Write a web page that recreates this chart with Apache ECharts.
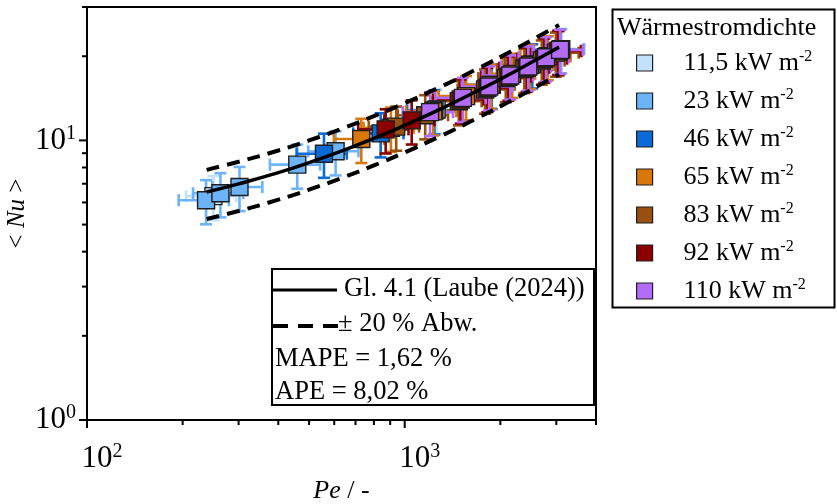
<!DOCTYPE html>
<html>
<head>
<meta charset="utf-8">
<script src="https://cdn.jsdelivr.net/npm/echarts@6/dist/echarts.min.js"></script>
<style>
  html, body { margin: 0; padding: 0; background: #fff; }
  #chart { width: 837px; height: 504px; }
</style>
</head>
<body>
<div id="chart"></div>
<script>
// Heat flux densities (legend labels) and their colours
const fluxLabels = ['11,5', '23', '46', '65', '83', '92', '110'];
const fluxColors = ['#c3e1fd', '#6cb4f7', '#0b6bd6', '#d7770c', '#975010', '#8b0000', '#b36cf5'];

// Measured Péclet numbers and mean Nusselt numbers per heat flux
const pe11 = [250, 1260, 3090];
const nu11 = [6.32, 12.9, 21.1];
const pe23 = [237, 263, 302, 459, 606, 3110];
const nu23 = [6.11, 6.47, 6.81, 8.19, 9.14, 21.2];
const pe46 = [557, 840, 1240, 1880, 2520, 3060];
const nu46 = [8.96, 10.6, 12.8, 15.8, 18.7, 20.9];
const pe65 = [730, 905, 1230, 1560, 1870, 2180, 2480, 2820, 3050];
const nu65 = [10.12, 11.1, 12.7, 14.4, 15.8, 17.3, 18.6, 20.0, 20.8];
const pe83 = [940, 1160, 1480, 1790, 2080, 2380, 2700, 2990];
const nu83 = [11.2, 12.3, 13.8, 15.2, 16.7, 18.0, 19.3, 20.6];
const pe92 = [871, 1052, 1500, 1820, 2120, 2420, 2750, 3040];
const nu92 = [10.95, 11.79, 14.0, 15.4, 16.9, 18.2, 19.6, 20.9];
const pe110 = [1202, 1524, 1845, 2149, 2449, 2785, 3083];
const nu110 = [12.62, 14.19, 15.59, 17.07, 18.38, 19.84, 21.08];

// Relative measurement uncertainty of Pe and Nu
const peUncertainty = 0.18;
const nuUncertainty = 0.18;

// Correlation Gl. 4.1 (Laube 2024)
const modelPe = [238, 300, 400, 500, 650, 800, 1000, 1300, 1700, 2200, 2700, 3060];
const modelNu = [6.54, 6.99, 7.67, 8.33, 9.27, 10.17, 11.32, 12.97, 15.06, 17.54, 19.92, 21.56];
const bandFactor = 0.2; // ± 20 % deviation band

// Axis ticks
const xMajorTicks = [100, 1000];
const xMinorTicks = [200, 300, 400, 500, 600, 700, 800, 900, 2000, 3000, 4000];
const yMajorTicks = [1, 10];
const yMinorTicks = [2, 3, 4, 5, 6, 7, 8, 9, 20, 30];

const peSets = [pe11, pe23, pe46, pe65, pe83, pe92, pe110];
const nuSets = [nu11, nu23, nu46, nu65, nu83, nu92, nu110];

const FONT = '"Liberation Serif", "Times New Roman", serif';
const seriesNames = fluxLabels.map(l => l + ' kW m-2');

function pairs(xs, ys) { return xs.map((x, i) => [x, ys[i]]); }

function errorBarRenderer(color) {
  return function (params, api) {
    const pe = api.value(0), nu = api.value(1);
    const c = api.coord([pe, nu]);
    const xl = api.coord([pe * (1 - peUncertainty), nu]);
    const xr = api.coord([pe * (1 + peUncertainty), nu]);
    const yb = api.coord([pe, nu * (1 - nuUncertainty)]);
    const yt = api.coord([pe, nu * (1 + nuUncertainty)]);
    const cap = 6;
    const st = { stroke: color, lineWidth: 2.6 };
    const seg = (x1, y1, x2, y2) => ({ type: 'line', shape: { x1, y1, x2, y2 }, style: st });
    return {
      type: 'group',
      children: [
        seg(xl[0], c[1], xr[0], c[1]),
        seg(xl[0], c[1] - cap, xl[0], c[1] + cap),
        seg(xr[0], c[1] - cap, xr[0], c[1] + cap),
        seg(c[0], yb[1], c[0], yt[1]),
        seg(c[0] - cap, yb[1], c[0] + cap, yb[1]),
        seg(c[0] - cap, yt[1], c[0] + cap, yt[1])
      ]
    };
  };
}

function tickRenderer(axis, len) {
  return function (params, api) {
    const v = api.value(0);
    const st = { stroke: '#000', lineWidth: 2 };
    if (axis === 'x') {
      const p = api.coord([v, 1]);
      return { type: 'line', shape: { x1: p[0], y1: p[1], x2: p[0], y2: p[1] + len }, style: st };
    }
    const p = api.coord([100, v]);
    return { type: 'line', shape: { x1: p[0] - len, y1: p[1], x2: p[0], y2: p[1] }, style: st };
  };
}

function powerLabel(v) {
  const l = Math.log10(v);
  const e = Math.round(l);
  if (Math.abs(l - e) > 1e-6) return '';
  return '{b|10}{s|' + e + '}';
}

const tickRich = {
  b: { fontFamily: FONT, fontSize: 31, color: '#000', lineHeight: 34 },
  s: { fontFamily: FONT, fontSize: 20, color: '#000', lineHeight: 20, verticalAlign: 'top' }
};

const series = [];

// Model line and ± 20 % band
series.push({
  type: 'line', name: 'model', data: pairs(modelPe, modelNu), smooth: true, showSymbol: false,
  lineStyle: { color: '#000', width: 3.5 }, z: 6, silent: true
});
series.push({
  type: 'line', name: 'upper', data: pairs(modelPe, modelNu.map(v => v * (1 + bandFactor))), smooth: true, showSymbol: false,
  lineStyle: { color: '#000', width: 4, type: [13, 8] }, z: 6, silent: true
});
series.push({
  type: 'line', name: 'lower', data: pairs(modelPe, modelNu.map(v => v * (1 - bandFactor))), smooth: true, showSymbol: false,
  lineStyle: { color: '#000', width: 4, type: [13, 8] }, z: 6, silent: true
});

// Measurements: error bars beneath each square, one heat flux after the other
fluxLabels.forEach((lab, i) => {
  const d = pairs(peSets[i], nuSets[i]);
  series.push({
    type: 'custom', name: 'err-' + lab, data: d, renderItem: errorBarRenderer(fluxColors[i]),
    encode: { x: 0, y: 1 }, z: 3, silent: true
  });
  series.push({
    type: 'scatter', name: seriesNames[i], data: d, symbol: 'rect', symbolSize: 17,
    itemStyle: { color: fluxColors[i], borderColor: '#1e1e1e', borderWidth: 1.4, opacity: 1 },
    z: 3
  });
});

// Log-axis ticks at 1..9 × 10^n
series.push({ type: 'custom', data: xMajorTicks.map(v => [v]), renderItem: tickRenderer('x', 8), encode: { x: 0 }, clip: false, silent: true, z: 10 });
series.push({ type: 'custom', data: xMinorTicks.map(v => [v]), renderItem: tickRenderer('x', 5), encode: { x: 0 }, clip: false, silent: true, z: 10 });
series.push({ type: 'custom', data: yMajorTicks.map(v => [v]), renderItem: tickRenderer('y', 8), encode: { y: 0 }, clip: false, silent: true, z: 10 });
series.push({ type: 'custom', data: yMinorTicks.map(v => [v]), renderItem: tickRenderer('y', 5), encode: { y: 0 }, clip: false, silent: true, z: 10 });

const chart = echarts.init(document.getElementById('chart'), null, { renderer: 'canvas' });
chart.setOption({
  backgroundColor: '#fff',
  animation: false,
  textStyle: { fontFamily: FONT },
  grid: {
    left: 87, right: 241, top: 7, bottom: 84,
    show: true, borderColor: '#000', borderWidth: 2,
    containLabel: false, outerBoundsMode: 'none'
  },
  xAxis: {
    type: 'log', logBase: 10, min: 100, max: 4000,
    name: '{i|Pe} / -', nameLocation: 'middle', nameGap: 58, nameMoveOverlap: false,
    nameTextStyle: { fontFamily: FONT, fontSize: 26, color: '#000', rich: { i: { fontFamily: FONT, fontSize: 26, fontStyle: 'italic', color: '#000' } } },
    axisLine: { lineStyle: { color: '#000', width: 2 } },
    axisTick: { show: false },
    splitLine: { show: false },
    axisLabel: { formatter: powerLabel, margin: 22, padding: [0, 0, 0, 30], rich: tickRich, showMaxLabel: false }
  },
  yAxis: {
    type: 'log', logBase: 10, min: 1, max: 30,
    name: '< {i|Nu} >', nameLocation: 'middle', nameGap: 57, nameRotate: 90, nameMoveOverlap: false,
    nameTextStyle: { fontFamily: FONT, fontSize: 25, color: '#000', rich: { i: { fontFamily: FONT, fontSize: 25, fontStyle: 'italic', color: '#000' } } },
    axisLine: { lineStyle: { color: '#000', width: 2 } },
    axisTick: { show: false },
    splitLine: { show: false },
    axisLabel: { formatter: powerLabel, margin: 11, rich: tickRich, showMaxLabel: false }
  },
  legend: {
    data: seriesNames,
    orient: 'vertical', left: 631, top: 44,
    icon: 'rect', itemWidth: 16, itemHeight: 16, itemGap: 11,
    selectedMode: false,
    itemStyle: { borderColor: '#1e1e1e', borderWidth: 1.2 },
    formatter: n => '{v|' + n.replace(' kW m-2', '') + ' kW m}{s|-2}',
    textStyle: {
      padding: [0, 0, 0, 26],
      rich: {
        v: { fontFamily: FONT, fontSize: 26, color: '#000', lineHeight: 28 },
        s: { fontFamily: FONT, fontSize: 16, color: '#000', lineHeight: 16, verticalAlign: 'top' }
      }
    }
  },
  graphic: [
    { type: 'rect', left: 610, top: 7, shape: { width: 222, height: 298 }, style: { fill: 'none', stroke: '#000', lineWidth: 2 }, z: 20 },
    { type: 'text', left: 617, top: 15, style: { text: 'Wärmestromdichte', font: '26px ' + FONT, fill: '#000' }, z: 20 },
    { type: 'rect', left: 271, top: 268, shape: { width: 322, height: 136 }, style: { fill: '#fff', stroke: '#000', lineWidth: 2 }, z: 20 },
    { type: 'line', shape: { x1: 273, y1: 290, x2: 337, y2: 290 }, style: { stroke: '#000', lineWidth: 3 }, z: 21 },
    { type: 'line', shape: { x1: 273, y1: 326, x2: 338, y2: 326 }, style: { stroke: '#000', lineWidth: 4, lineDash: [15, 10] }, z: 21 },
    { type: 'text', left: 344, top: 276, style: { text: 'Gl. 4.1 (Laube (2024))', font: '26.5px ' + FONT, fill: '#000' }, z: 21 },
    { type: 'text', left: 338, top: 311, style: { text: '± 20 % Abw.', font: '26.5px ' + FONT, fill: '#000' }, z: 21 },
    { type: 'text', left: 275, top: 346, style: { text: 'MAPE = 1,62 %', font: '26.5px ' + FONT, fill: '#000' }, z: 21 },
    { type: 'text', left: 275, top: 379, style: { text: 'APE = 8,02 %', font: '26.5px ' + FONT, fill: '#000' }, z: 21 }
  ],
  series: series
});
</script>
</body>
</html>
